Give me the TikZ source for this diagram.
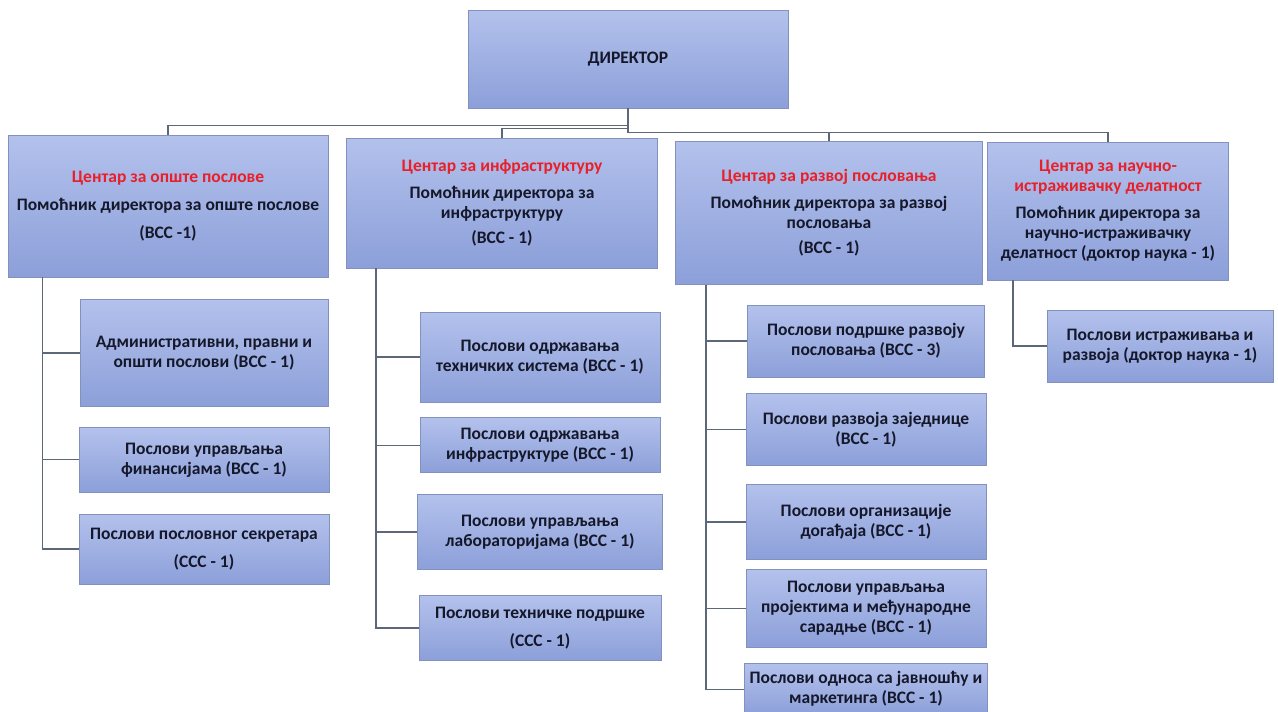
\documentclass[tikz,border=0pt]{standalone}
\usepackage{fontspec}
\setmainfont{Carlito}
\usepackage{tikz}
\usetikzlibrary{positioning}
\definecolor{boxtop}{HTML}{B3C1EC}
\definecolor{boxbot}{HTML}{8C9FD9}
\definecolor{boxedge}{HTML}{8292BC}
\definecolor{wire}{HTML}{5C6878}
\definecolor{titlered}{HTML}{E8202A}
\definecolor{ink}{HTML}{15182A}
\tikzset{line/.style={draw, wire, line width=1.3pt}}

\begin{document}
\begin{tikzpicture}[x=1pt, y=-1pt]
\tikzstyle{block} = [rectangle, draw=boxedge, line width=0.8pt, top color=boxtop, bottom color=boxbot, text=ink, font=\bfseries\fontsize{17.5}{20}\selectfont, align=center, inner sep=2pt]
\tikzstyle{head} = [block, minimum height=138pt]
\tikzstyle{job} = [block, minimum width=244pt]
\newcommand{\red}[1]{{\color{titlered}#1}}

\useasboundingbox (0,0) rectangle (1278,712);

% director and the four centres
\node [block, minimum width=320pt, minimum height=98pt](dir) at (628,59){ДИРЕКТОР};
\node [head, minimum width=320pt, minimum height=142pt](opste) at (168,206){\red{Центар за опште послове}\\[8pt]Помоћник директора за опште послове\\[8pt](ВСС  -1)};
\node [head, minimum width=311pt, minimum height=130pt](infra) at (502,203){\red{Центар за инфраструктуру}\\[7pt]Помоћник директора за\\инфраструктуру\\[5pt](ВСС - 1)};
\node [head, minimum width=307pt, minimum height=143pt](razvoj) at (829,213){\red{Центар за развој пословања}\\[7pt]Помоћник директора за развој\\пословања\\[5pt](ВСС - 1)};
\node [head, minimum width=241pt](nauka) at (1108,211){\red{Центар за научно-}\\\red{истраживачку делатност}\\[7pt]Помоћник директора за\\научно-истраживачку\\делатност (доктор наука - 1)};

% jobs under the centres
\node [job, minimum width=248pt, minimum height=107pt](adm) at (204,353){Административни, правни и\\општи послови (ВСС - 1)};
\node [job, minimum width=250pt, minimum height=65pt, below=20pt of adm](fin){Послови управљања\\финансијама (ВСС - 1)};
\node [job, minimum width=250pt, minimum height=70pt, below=21pt of fin](sekr){Послови пословног секретара\\[8pt](ССС - 1)};

\node [job, minimum width=240pt, minimum height=90pt](tehsis) at (540,357){Послови одржавања\\техничких система (ВСС - 1)};
\node [job, minimum width=240pt, minimum height=55pt, below=15pt of tehsis](odrinf){Послови одржавања\\инфраструктуре (ВСС - 1)};
\node [job, minimum width=245pt, minimum height=75pt, below=21pt of odrinf](lab){Послови управљања\\лабораторијама (ВСС - 1)};
\node [job, minimum width=242pt, minimum height=65pt, below=25pt of lab](tehpod){Послови техничке подршке\\[8pt](ССС - 1)};

\node [job, minimum width=237pt, minimum height=72pt](podr) at (866,341){Послови подршке развоју\\пословања (ВСС - 3)};
\node [job, minimum width=240pt, minimum height=72pt, below=16pt of podr](zajed){Послови развоја заједнице\\(ВСС - 1)};
\node [job, minimum width=240pt, minimum height=75pt, below=18pt of zajed](dogad){Послови организације\\догађаја (ВСС - 1)};
\node [job, minimum width=240pt, minimum height=78pt, below=9pt of dogad](proj){Послови управљања\\пројектима и међународне\\сарадње (ВСС - 1)};
\node [job, minimum width=243pt, minimum height=52pt, below=15pt of proj](javn){Послови односа са јавношћу  и\\маркетинга (ВСС - 1)};

\node [job, minimum width=226pt, minimum height=72pt](istr) at (1160,346){Послови истраживања и\\развоја (доктор наука - 1)};

% director to centres
\path [line] (dir.south) -- ++(0,17) -| (opste.north);
\path [line] (dir.south) -- ++(0,20) -| (infra.north);
\path [line] (dir.south) -- ++(0,24) -| (razvoj.north);
\path [line] (dir.south) -- ++(0,24) -| (nauka.north);

% centres to jobs
\path [line] ([xshift=35pt]opste.south west) |- (adm.west);
\path [line] ([xshift=35pt]opste.south west) |- (fin.west);
\path [line] ([xshift=35pt]opste.south west) |- (sekr.west);
\path [line] ([xshift=30pt]infra.south west) |- (tehsis.west);
\path [line] ([xshift=30pt]infra.south west) |- (odrinf.west);
\path [line] ([xshift=30pt]infra.south west) |- (lab.west);
\path [line] ([xshift=30pt]infra.south west) |- (tehpod.west);
\path [line] ([xshift=31pt]razvoj.south west) |- (podr.west);
\path [line] ([xshift=31pt]razvoj.south west) |- (zajed.west);
\path [line] ([xshift=31pt]razvoj.south west) |- (dogad.west);
\path [line] ([xshift=31pt]razvoj.south west) |- (proj.west);
\path [line] ([xshift=31pt]razvoj.south west) |- (javn.west);
\path [line] ([xshift=26pt]nauka.south west) |- (istr.west);

\end{tikzpicture}
\end{document}
